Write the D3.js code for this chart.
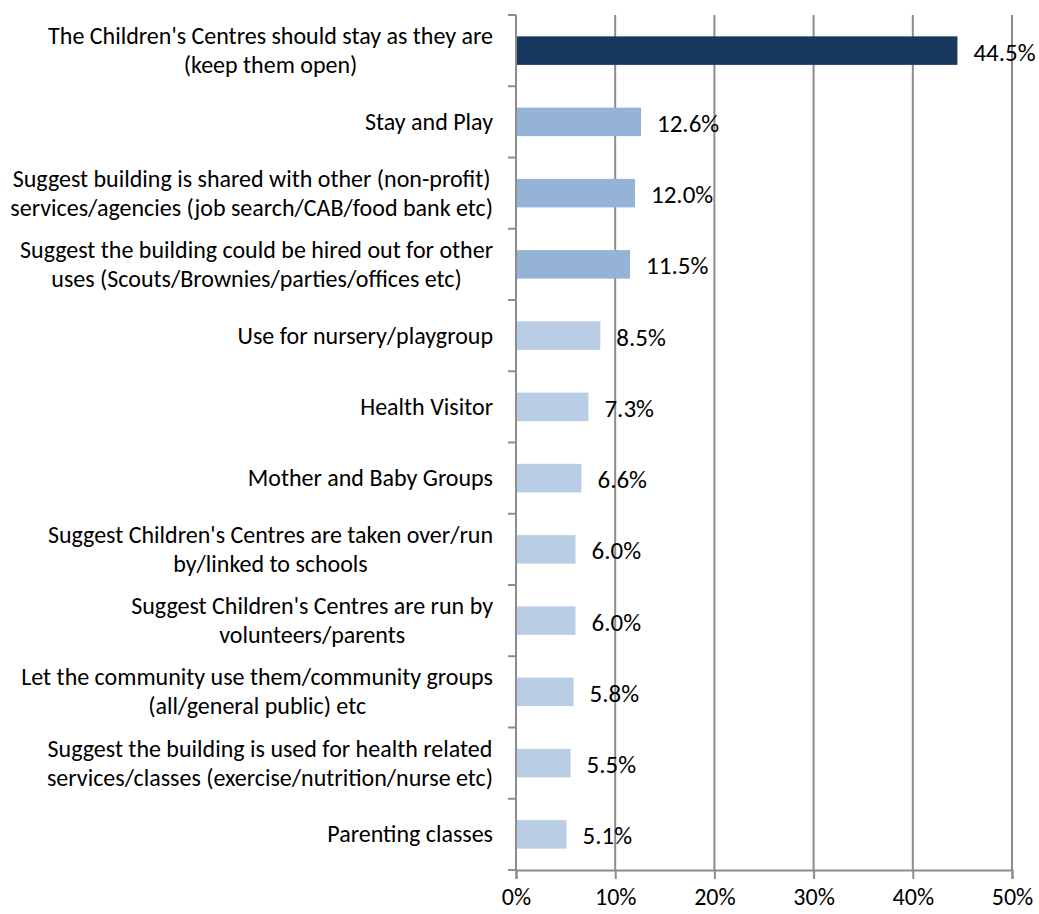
<!DOCTYPE html>
<html>
<head>
<meta charset="utf-8">
<script src="https://cdn.jsdelivr.net/npm/d3@7"></script>
<style>
  html, body { margin: 0; padding: 0; background: #ffffff; }
  svg { display: block; }
  text { font-family: Carlito, Lato, "Open Sans", sans-serif; fill: #000; }
</style>
</head>
<body>
<svg id="chart" width="1039" height="914"></svg>
<script>
// Responses, in display order (top to bottom); "\n" marks a line break
const categories = [
  "The Children's Centres should stay as they are\n(keep them open)",
  "Stay and Play",
  "Suggest building is shared with other (non-profit)\nservices/agencies (job search/CAB/food bank etc)",
  "Suggest the building could be hired out for other\nuses (Scouts/Brownies/parties/offices etc)",
  "Use for nursery/playgroup",
  "Health Visitor",
  "Mother and Baby Groups",
  "Suggest Children's Centres are taken over/run\nby/linked to schools",
  "Suggest Children's Centres are run by\nvolunteers/parents",
  "Let the community use them/community groups\n(all/general public) etc",
  "Suggest the building is used for health related\nservices/classes (exercise/nutrition/nurse etc)",
  "Parenting classes"
];
const values = [44.5, 12.6, 12.0, 11.5, 8.5, 7.3, 6.6, 6.0, 6.0, 5.8, 5.5, 5.1];
// Shade group per response: 0 = top answer, 1 = main suggestions, 2 = other suggestions
const groups = [0, 1, 1, 1, 2, 2, 2, 2, 2, 2, 2, 2];
const xTicks = [0, 10, 20, 30, 40, 50];

const groupColors = ["#17375E", "#95B3D7", "#B9CDE5"];
const gridColor = "#8C8C8C";

const svg = d3.select("#chart");
const plotLeft = 516, plotRight = 1012, plotTop = 15, plotBottom = 870;

const x = d3.scaleLinear().domain([0, 50]).range([plotLeft, plotRight]);
const y = d3.scaleBand().domain(d3.range(categories.length))
  .range([plotTop, plotBottom]).paddingInner(0.6).paddingOuter(0.3);

// vertical gridlines
svg.append("g").selectAll("line").data(xTicks.slice(1)).join("line")
  .attr("x1", d => x(d)).attr("x2", d => x(d))
  .attr("y1", plotTop).attr("y2", plotBottom)
  .attr("stroke", gridColor).attr("stroke-width", 2);

// bars
svg.append("g").selectAll("rect").data(values).join("rect")
  .attr("x", x(0))
  .attr("y", (d, i) => y(i))
  .attr("width", d => x(d) - x(0))
  .attr("height", y.bandwidth())
  .attr("fill", (d, i) => groupColors[groups[i]]);

// value labels
svg.append("g").selectAll("text").data(values).join("text")
  .attr("x", d => x(d) + 16)
  .attr("y", (d, i) => y(i) + y.bandwidth() / 2 + 10)
  .attr("font-size", 25)
  .text(d => d.toFixed(1) + "%");

// x axis
const xAxis = d3.axisBottom(x).tickValues(xTicks).tickSize(9).tickPadding(9)
  .tickFormat(d => d + "%");
const gx = svg.append("g").attr("transform", `translate(0,${plotBottom})`).call(xAxis);
gx.select(".domain").attr("stroke", gridColor).attr("stroke-width", 2);
gx.selectAll(".tick line").attr("stroke", gridColor).attr("stroke-width", 2);
gx.selectAll(".tick text").attr("font-size", 24).attr("font-family", null).attr("fill", "#000");

// y axis line with tick marks at category boundaries
const step = y.step();
const boundaries = d3.range(categories.length + 1).map(i => plotTop + i * step);
svg.append("line").attr("x1", plotLeft).attr("x2", plotLeft).attr("y1", plotTop).attr("y2", plotBottom)
  .attr("stroke", gridColor).attr("stroke-width", 2);
svg.append("g").selectAll("line").data(boundaries).join("line")
  .attr("x1", plotLeft - 8).attr("x2", plotLeft).attr("y1", d => d).attr("y2", d => d)
  .attr("stroke", gridColor).attr("stroke-width", 2);

// category labels: right-aligned block, lines centred within it
const labelRight = 493, lineH = 29;
const lg = svg.append("g").attr("font-size", 24);
categories.forEach((c, i) => {
  const lines = c.split("\n");
  const cy = y(i) + y.bandwidth() / 2;
  const texts = lines.map((ln, k) => lg.append("text")
    .attr("y", cy + (k - (lines.length - 1) / 2) * lineH + 8)
    .attr("text-anchor", "middle")
    .text(ln));
  const maxW = d3.max(texts, t => t.node().getComputedTextLength());
  texts.forEach(t => t.attr("x", labelRight - maxW / 2));
});
</script>
</body>
</html>
